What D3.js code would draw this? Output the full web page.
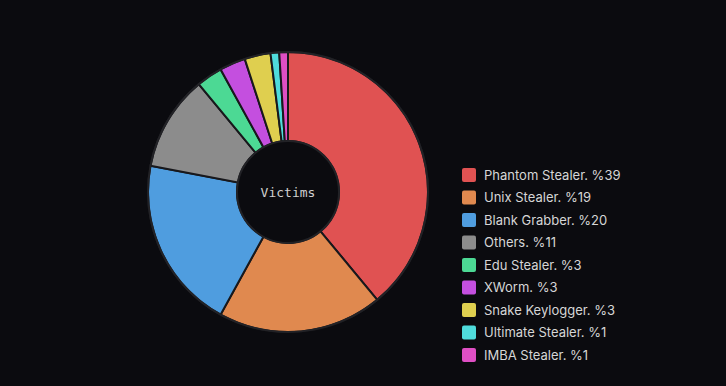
<!DOCTYPE html>
<meta charset="utf-8">
<style>
  body { margin: 0; background: #0b0b0f; }
  .legend text { font: 13px "Inter", "Noto Sans", sans-serif; fill: #d6d6d6; }
</style>
<body>
<script src="https://d3js.org/d3.v7.min.js"></script>
<script>
// data
var labels = ["Phantom Stealer", "Unix Stealer", "Blank Grabber", "Others", "Edu Stealer",
              "XWorm", "Snake Keylogger", "Ultimate Stealer", "IMBA Stealer"];
var values = [39, 19, 20, 11, 3, 3, 3, 1, 1];
var colors = ["#e05252", "#e0894f", "#4f9ddf", "#8c8c8c", "#4cd994",
              "#c44fdf", "#dfcf4f", "#4fdcdc", "#df4fc4"];

var width = 726, height = 386;
var cx = 288, cy = 192, outerR = 140, innerR = 51;

var svg = d3.select("body").append("svg")
    .attr("width", width)
    .attr("height", height);

var pie = d3.pie().sort(null).value(function(d) { return d; });
var arc = d3.arc().innerRadius(innerR).outerRadius(outerR);

var g = svg.append("g")
    .attr("transform", "translate(" + cx + "," + cy + ")");

g.selectAll("path")
    .data(pie(values))
  .enter().append("path")
    .attr("d", arc)
    .attr("fill", function(d, i) { return colors[i]; })
    .attr("stroke", "#18181c")
    .attr("stroke-width", 2);

// outer ring + hole border
g.append("circle")
    .attr("r", outerR)
    .attr("fill", "none")
    .attr("stroke", "#222226")
    .attr("stroke-width", 2);

g.append("circle")
    .attr("r", innerR)
    .attr("fill", "#0b0b0f")
    .attr("stroke", "#222226")
    .attr("stroke-width", 2);

g.append("text")
    .attr("text-anchor", "middle")
    .attr("dy", "0.35em")
    .style("font", "13px 'DejaVu Sans Mono', monospace")
    .style("fill", "#d0d0d0")
    .text("Victims");

// legend
var legend = svg.append("g")
    .attr("class", "legend")
    .attr("transform", "translate(462,175)");

var row = legend.selectAll("g")
    .data(labels)
  .enter().append("g")
    .attr("transform", function(d, i) { return "translate(0," + (i * 22.5) + ")"; });

row.append("rect")
    .attr("x", 0)
    .attr("y", -7)
    .attr("width", 14)
    .attr("height", 14)
    .attr("rx", 2)
    .attr("fill", function(d, i) { return colors[i]; });

row.append("text")
    .attr("x", 22)
    .attr("dy", "0.35em")
    .text(function(d, i) { return d + ". %" + values[i]; });
</script>
</body>
